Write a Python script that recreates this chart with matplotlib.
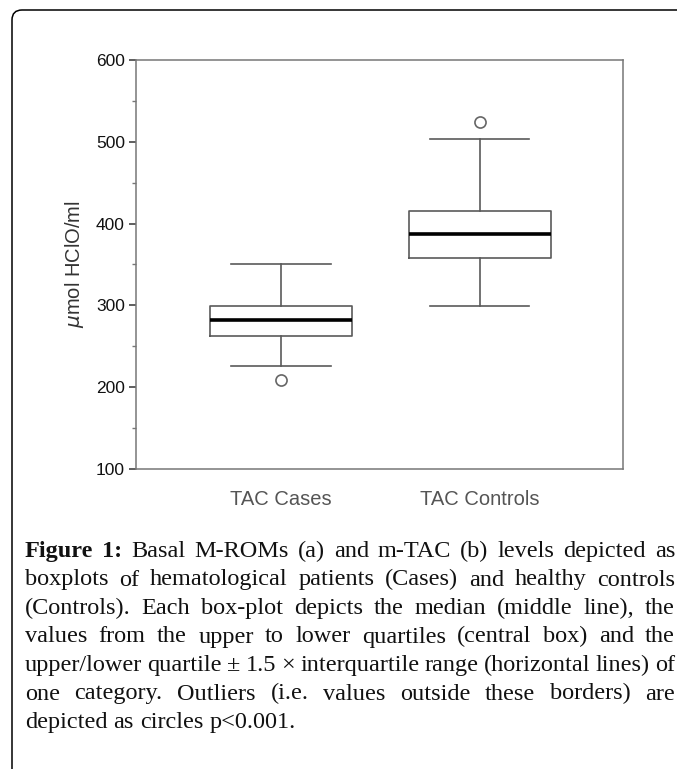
import matplotlib
matplotlib.use("Agg")
import matplotlib.pyplot as plt
from matplotlib.patches import FancyBboxPatch
from matplotlib.transforms import IdentityTransform
from matplotlib.ticker import MultipleLocator

# values
groups = ["TAC Cases", "TAC Controls"]
medians = [282, 387]
q1 = [263, 358]
q3 = [299, 416]
whisker_low = [226, 299]
whisker_high = [350, 504]
outliers = [[209], [524]]

caption_lines = [
    "Figure 1: Basal M-ROMs (a) and m-TAC (b) levels depicted as",
    "boxplots of hematological patients (Cases) and healthy controls",
    "(Controls). Each box-plot depicts the median (middle line), the",
    "values from the upper to lower quartiles (central box) and the",
    "upper/lower quartile \u00b1 1.5 \u00d7 interquartile range (horizontal lines) of",
    "one category. Outliers (i.e. values outside these borders) are",
    "depicted as circles p<0.001.",
]

W, H = 677, 769
fig = plt.figure(figsize=(W / 100, H / 100), dpi=100)
plt.rcParams["font.family"] = ["Liberation Sans", "DejaVu Sans"]

# outer frame: only the rounded top-left corner is visible
frame = FancyBboxPatch((12, -60), 900, H - 10 + 60,
                       boxstyle="round,pad=0,rounding_size=10",
                       transform=IdentityTransform(), fill=False,
                       ec="black", lw=1.1)
fig.add_artist(frame)

ax = fig.add_axes([136 / W, 1 - 469 / H, (622.7 - 136) / W, (469 - 60) / H])

stats = []
for i, name in enumerate(groups):
    stats.append(dict(label=name, med=medians[i], q1=q1[i], q3=q3[i],
                      whislo=whisker_low[i], whishi=whisker_high[i],
                      fliers=outliers[i]))

gray = "#5a5a5a"
ax.bxp(stats, positions=[1, 2], widths=0.716, capwidths=0.5,
       boxprops=dict(color=gray, lw=1.2),
       whiskerprops=dict(color=gray, lw=1.2),
       capprops=dict(color=gray, lw=1.2),
       medianprops=dict(color="black", lw=2.6),
       flierprops=dict(marker="o", mfc="white", mec="#666666", ms=8, mew=1.2))

ax.set_xlim(0.27, 2.72)
ax.set_ylim(100, 600)
ax.yaxis.set_major_locator(MultipleLocator(100))
ax.yaxis.set_minor_locator(MultipleLocator(50))
for s in ax.spines.values():
    s.set_color("#777777")
    s.set_linewidth(1.1)

ax.tick_params(axis="y", which="major", length=5, width=1.1, color="#333333",
               labelsize=12.5, labelcolor="#111111", pad=3)
ax.tick_params(axis="y", which="minor", length=3, width=1, color="#777777")
ax.tick_params(axis="x", length=0, pad=15, labelsize=14.5, labelcolor="#555555")
ax.set_ylabel(r"$\mu$mol HClO/ml", fontsize=14.5, color="#333333", labelpad=7)

# justified caption, placed word by word
renderer = fig.canvas.get_renderer()
left, right = 25, 675
fsize = 17.5
space = 0.25 * fsize * 100 / 72
for i, line in enumerate(caption_lines):
    base = 557 + i * 28.5
    words = line.split(" ")
    texts = []
    for j, w in enumerate(words):
        bold = i == 0 and j < 2
        t = fig.text(0, 1 - base / H, w, fontsize=fsize,
                     family=["Liberation Serif", "DejaVu Serif"],
                     weight="bold" if bold else "normal",
                     va="baseline", ha="left", color="#111111")
        texts.append(t)
    widths = [t.get_window_extent(renderer).width for t in texts]
    if i < len(caption_lines) - 1:
        gap = (right - left - sum(widths)) / (len(words) - 1)
    else:
        gap = space
    x = left
    for t, w in zip(texts, widths):
        t.set_x(x / W)
        x += w + gap

fig.savefig("out.png", dpi=100)
